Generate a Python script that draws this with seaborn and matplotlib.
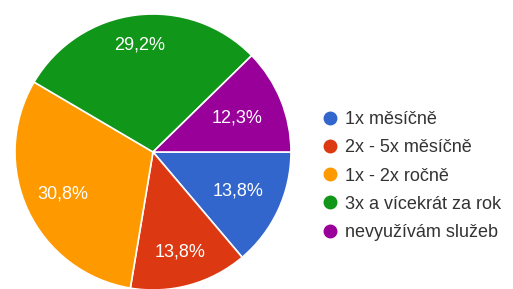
import matplotlib
matplotlib.use("Agg")
import numpy as np
import matplotlib.pyplot as plt
from matplotlib.lines import Line2D
import seaborn as sns

categories = ["1x měsíčně", "2x - 5x měsíčně", "1x - 2x ročně", "3x a vícekrát za rok", "nevyužívám služeb"]
values = [13.8, 13.8, 30.8, 29.2, 12.3]
labels = ["13,8%", "13,8%", "30,8%", "29,2%", "12,3%"]
colors = ["#3366cc", "#dc3912", "#ff9900", "#109618", "#990099"]
label_dist = [0.68, 0.75, 0.72, 0.78, 0.66]

sns.set_theme(style="white")
plt.rcParams['font.family'] = ['Arial', 'Liberation Sans', 'DejaVu Sans']
palette = sns.color_palette(colors)

fig = plt.figure(figsize=(5.13, 2.89), dpi=100)
W, H = 513, 289
cx, cy, r = 153, 152, 138
ax = fig.add_axes([(cx - r) / W, (H - cy - r) / H, 2 * r / W, 2 * r / H])
wedges, texts = ax.pie(values, colors=palette, startangle=0, counterclock=False,
                       labels=labels, labeldistance=0.7,
                       wedgeprops=dict(edgecolor="white", linewidth=1.2),
                       textprops=dict(color="white", fontsize=13))
for w, t, d in zip(wedges, texts, label_dist):
    ang = np.deg2rad((w.theta1 + w.theta2) / 2)
    t.set_position((d * np.cos(ang), d * np.sin(ang)))
    t.set_ha("center")
    t.set_va("center")
ax.set_xlim(-1, 1)
ax.set_ylim(-1, 1)
ax.set_aspect("equal")
ax.axis("off")

handles = [Line2D([0], [0], marker="o", linestyle="", markersize=9,
                  markerfacecolor=c, markeredgecolor=c) for c in palette]
fig.legend(handles, categories, loc="upper left",
           bbox_to_anchor=(314 / W, 1 - 104 / H), frameon=False,
           fontsize=13, labelspacing=0.62, handletextpad=0.3,
           handlelength=1.0, borderaxespad=0, labelcolor="#333333")

fig.savefig("out.png", dpi=100)
